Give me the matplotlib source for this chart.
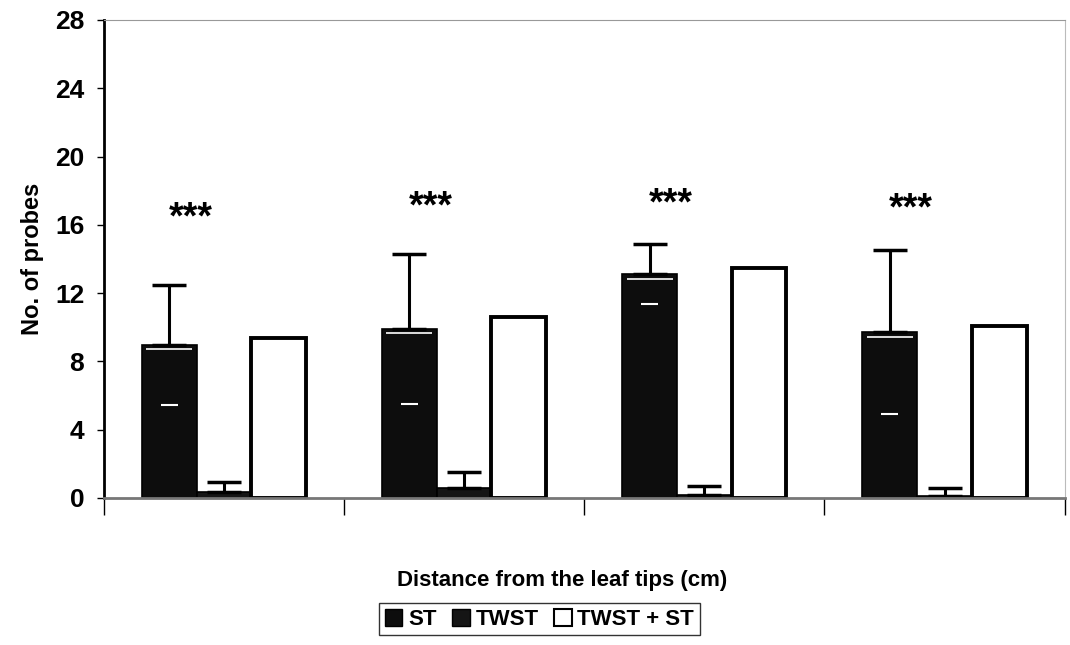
import numpy as np
import matplotlib
matplotlib.use("Agg")
import matplotlib.pyplot as plt
from matplotlib.patches import Patch

# data
groups = ["", "", "", ""]
st = [8.95, 9.9, 13.1, 9.7]
st_err = [3.5, 4.4, 1.75, 4.8]
twst = [0.37, 0.6, 0.2, 0.1]
twst_err = [0.56, 0.9, 0.5, 0.5]
twst_st = [9.35, 10.6, 13.5, 10.1]
stars_y = [16.4, 17.0, 17.2, 16.9]

plt.rcParams['font.family'] = ['Liberation Sans', 'DejaVu Sans']

fig = plt.figure(figsize=(10.7, 6.45), dpi=100)
ax = fig.add_axes([0.097, 0.228, 0.898, 0.741])

x = np.arange(len(groups))
w = 0.228
ekw = dict(ecolor="black", elinewidth=2.2, capsize=12, capthick=2.5)
ax.bar(x - w, st, w, color="#0d0d0d", edgecolor="black", linewidth=1.2,
       yerr=[np.zeros(4), st_err], error_kw=ekw)
ax.bar(x, twst, w, color="#151515", edgecolor="black", linewidth=1.2,
       yerr=[np.zeros(4), twst_err], error_kw=ekw)
ax.bar(x + w, twst_st, w, color="white", edgecolor="black", linewidth=2.8)

# lower error caps show as white dashes inside the dark bars
st_lo = np.array(st) - np.array(st_err)
ax.hlines(st_lo, x - w - 0.035, x - w + 0.035, color="white", linewidth=1.5)
ax.hlines(np.array(st) - 0.25, x - w - w * 0.42, x - w + w * 0.42, color="white", linewidth=1.2)

for i in range(len(groups)):
    ax.text(x[i] - 0.14, stars_y[i], "***", ha="center", va="center",
            fontsize=27, fontweight="bold")

ax.set_xlim(-0.5, len(groups) - 0.5)
ax.set_ylim(0, 28)
ax.set_yticks(range(0, 29, 4))
ax.set_xticks(np.arange(-0.5, len(groups), 1.0))
ax.set_xticklabels([])
ax.tick_params(axis="x", direction="out", length=12, width=1)
ax.tick_params(axis="y", direction="out", length=5, width=1, labelsize=19, pad=9)
for lbl in ax.get_yticklabels():
    lbl.set_fontweight("bold")

ax.spines["left"].set_linewidth(2)
ax.spines["bottom"].set_color("#777777")
ax.spines["bottom"].set_linewidth(2)
ax.spines["top"].set_color("#999999")
ax.spines["right"].set_color("#bbbbbb")
ax.spines["right"].set_linewidth(0.8)

ax.set_ylabel("No. of probes", fontsize=17, fontweight="bold", labelpad=8)
ax.set_xlabel("Distance from the leaf tips (cm)", fontsize=16, fontweight="bold")
ax.xaxis.set_label_coords(0.477, -0.172, transform=ax.transAxes)
ax.xaxis.label.set_va("center")

handles = [Patch(facecolor="#0d0d0d", edgecolor="black", label="ST"),
           Patch(facecolor="#151515", edgecolor="black", label="TWST"),
           Patch(facecolor="white", edgecolor="black", linewidth=1.5, label="TWST + ST")]
fig.legend(handles=handles, loc="center", bbox_to_anchor=(0.504, 0.04), ncol=3,
           prop=dict(size=16, weight="bold"), frameon=True, fancybox=False,
           edgecolor="black", handlelength=0.8, handleheight=0.8, handletextpad=0.25,
           columnspacing=0.7, borderpad=0.25)

fig.savefig("out.png", dpi=100)
